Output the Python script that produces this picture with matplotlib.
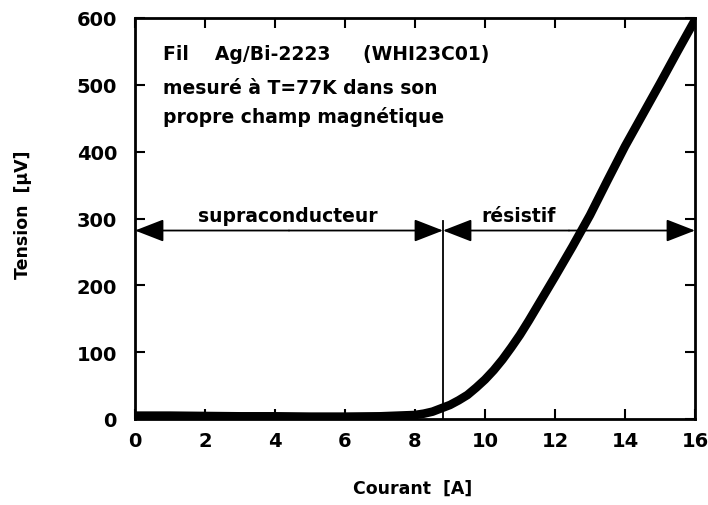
import matplotlib
matplotlib.use("Agg")
import matplotlib.pyplot as plt

courant = [0, 1, 2, 3, 4, 5, 6, 7, 7.5, 8, 8.25, 8.5, 8.75, 9, 9.25, 9.5, 9.75, 10,
           10.25, 10.5, 10.75, 11, 11.25, 11.5, 11.75, 12, 12.5, 13, 13.5, 14, 14.5,
           15, 15.5, 16]
tension = [5, 5, 4.5, 4, 4, 3.5, 3.5, 4, 5, 6, 8, 11, 16, 21, 28, 36, 47, 59,
           73, 89, 107, 126, 147, 169, 191, 213, 258, 305, 357, 408, 455,
           502, 550, 597]

xticks = [0, 2, 4, 6, 8, 10, 12, 14, 16]
yticks = [0, 100, 200, 300, 400, 500, 600]
x_transition = 8.8
y_arrow = 282
y_transition_top = 297

FAM = ['DejaVu Sans']
plt.rcParams['font.family'] = FAM

fig = plt.figure(figsize=(7.08, 5.06), dpi=100)
ax = fig.add_axes([135 / 708, 1 - 420 / 506, 560 / 708, 401 / 506])

ax.plot(courant, tension, color='black', lw=6.2, solid_capstyle='butt',
        solid_joinstyle='round')
ax.set_xlim(0, 16)
ax.set_ylim(0, 600)
ax.set_xticks(xticks)
ax.set_yticks(yticks)
for s in ax.spines.values():
    s.set_linewidth(2)
ax.tick_params(direction='in', length=7, width=1.5, top=True, right=True,
               labelsize=14)
ax.tick_params(axis='x', pad=9)
ax.tick_params(axis='y', pad=13)
for lab in ax.get_xticklabels() + ax.get_yticklabels():
    lab.set_fontweight('bold')

fig.text(413 / 708, 1 - 489 / 506, 'Courant  [A]', fontsize=12.5, fontweight='bold',
         ha='center', va='center')
fig.text(23 / 708, 1 - 215 / 506, 'Tension  [µV]', fontsize=12.5, fontweight='bold',
         ha='center', va='center', rotation=90)

ax.plot([x_transition, x_transition], [0, y_transition_top], color='black', lw=1.3)
ap = dict(arrowstyle='-|>,head_length=0.9,head_width=0.35', color='black', lw=1.3,
          mutation_scale=20, shrinkA=0, shrinkB=0)
mid1 = x_transition / 2
ax.annotate('', xy=(0, y_arrow), xytext=(mid1, y_arrow), arrowprops=ap)
ax.annotate('', xy=(x_transition, y_arrow), xytext=(mid1, y_arrow), arrowprops=ap)
mid2 = (x_transition + 16) / 2
ax.annotate('', xy=(x_transition, y_arrow), xytext=(mid2, y_arrow), arrowprops=ap)
ax.annotate('', xy=(16, y_arrow), xytext=(mid2, y_arrow), arrowprops=ap)

tkw = dict(fontsize=13.5, fontweight='bold')
ax.text(4.37, 297, 'supraconducteur', ha='center', va='baseline', **tkw)
ax.text(10.97, 296, 'résistif', ha='center', va='baseline', **tkw)
ax.text(0.8, 539, 'Fil    Ag/Bi-2223     (WHI23C01)', ha='left', va='baseline', **tkw)
ax.text(0.8, 488, 'mesuré à T=77K dans son', ha='left', va='baseline', **tkw)
ax.text(0.8, 444, 'propre champ magnétique', ha='left', va='baseline', **tkw)

fig.savefig('out.png', dpi=100)
